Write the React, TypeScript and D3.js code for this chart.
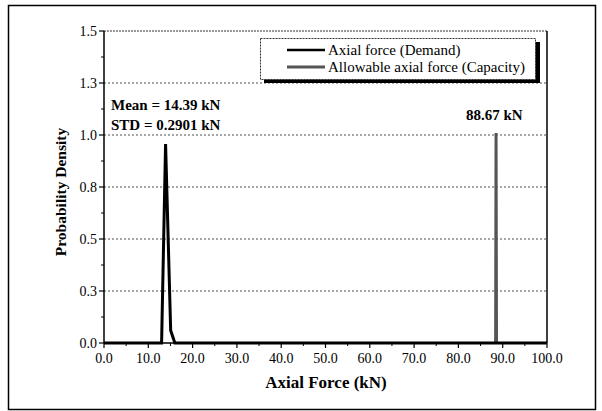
import React from "react";
import * as d3 from "d3";

const demandX = [0, 13.0, 13.9, 15.05, 16.0, 100];
const demandY = [0, 0, 0.957, 0.06, 0, 0];
const capacityX = [88.4, 88.5, 88.6];
const capacityY = [0, 1.01, 0];
const xTicks = [0, 10, 20, 30, 40, 50, 60, 70, 80, 90, 100];
const yTicks = [0, 0.25, 0.5, 0.75, 1.0, 1.25, 1.5];
const legendLabels = ["Axial force (Demand)", "Allowable axial force (Capacity)"];
const annotations = ["Mean = 14.39 kN", "STD = 0.2901 kN", "88.67 kN"];

const W = 602, H = 411;
const L = 104, R = 547, T = 31, B = 343;
const font = "'Liberation Serif', 'Times New Roman', serif";

export default function App() {
  const x = d3.scaleLinear().domain([0, 100]).range([L, R]);
  const y = d3.scaleLinear().domain([0, 1.5]).range([B, T]);
  const mk = (xs: number[], ys: number[]) =>
    d3.line<number>().x((d) => x(d)).y((_, i) => y(ys[i]))(xs) || "";
  const xMinor = d3.range(5, 100, 10);
  const yMinor = d3.range(0.125, 1.5, 0.25);
  return (
    <svg width={W} height={H} style={{ position: "absolute", left: 0, top: 0, background: "#fff" }} fontFamily={font}>
      <rect x={8.5} y={5.5} width={587} height={404} fill="none" stroke="#000" strokeWidth={1.5} />
      {yTicks.filter((t) => t > 0 && t < 1.5).map((t) => (
        <line key={t} x1={L} x2={R} y1={y(t)} y2={y(t)} stroke="#222" strokeWidth={0.8} strokeDasharray="2,2" />
      ))}
      <line x1={L} x2={R} y1={T} y2={T} stroke="#333" strokeWidth={1} strokeDasharray="2,1" />
      <line x1={R} x2={R} y1={T} y2={B} stroke="#000" strokeWidth={1.5} />
      <path d={mk(capacityX, capacityY)} fill="none" stroke="#555" strokeWidth={3} />
      <path d={mk(demandX, demandY)} fill="none" stroke="#000" strokeWidth={3} strokeLinejoin="miter" />
      <line x1={L} x2={L} y1={T} y2={B} stroke="#000" strokeWidth={1.5} />
      <line x1={L} x2={R} y1={B} y2={B} stroke="#000" strokeWidth={1.5} />
      {xTicks.map((t) => (
        <g key={t}>
          <line x1={x(t)} x2={x(t)} y1={B} y2={B + 5} stroke="#000" strokeWidth={1.2} />
          <text x={x(t)} y={363} textAnchor="middle" fontSize={14}>{t.toFixed(1)}</text>
        </g>
      ))}
      {xMinor.map((t) => (
        <line key={t} x1={x(t)} x2={x(t)} y1={B} y2={B + 3} stroke="#000" strokeWidth={1} />
      ))}
      {yTicks.map((t) => (
        <g key={t}>
          <line x1={L - 5} x2={L} y1={y(t)} y2={y(t)} stroke="#000" strokeWidth={1.2} />
          <text x={97} y={y(t) + 5} textAnchor="end" fontSize={14}>{t.toFixed(1)}</text>
        </g>
      ))}
      {yMinor.map((t) => (
        <line key={t} x1={L - 3} x2={L} y1={y(t)} y2={y(t)} stroke="#000" strokeWidth={1} />
      ))}
      <text x={326} y={388} textAnchor="middle" fontSize={17} fontWeight="bold">Axial Force (kN)</text>
      <text transform={`translate(66,192) rotate(-90)`} textAnchor="middle" fontSize={15.5} fontWeight="bold">Probability Density</text>
      <text x={111} y={110} fontSize={15} fontWeight="bold">{annotations[0]}</text>
      <text x={111} y={130} fontSize={15} fontWeight="bold">{annotations[1]}</text>
      <text x={466} y={120} fontSize={15} fontWeight="bold">{annotations[2]}</text>
      <rect x={264} y={42} width={276} height={41} fill="#000" />
      <rect x={260.5} y={38.5} width={275} height={41} fill="#fff" stroke="#333" strokeWidth={1} strokeDasharray="2,1" />
      <line x1={287} x2={325} y1={50} y2={50} stroke="#000" strokeWidth={2.5} />
      <line x1={287} x2={325} y1={67} y2={67} stroke="#555" strokeWidth={3} />
      <text x={328} y={55} fontSize={15}>{legendLabels[0]}</text>
      <text x={328} y={72} fontSize={15}>{legendLabels[1]}</text>
    </svg>
  );
}
